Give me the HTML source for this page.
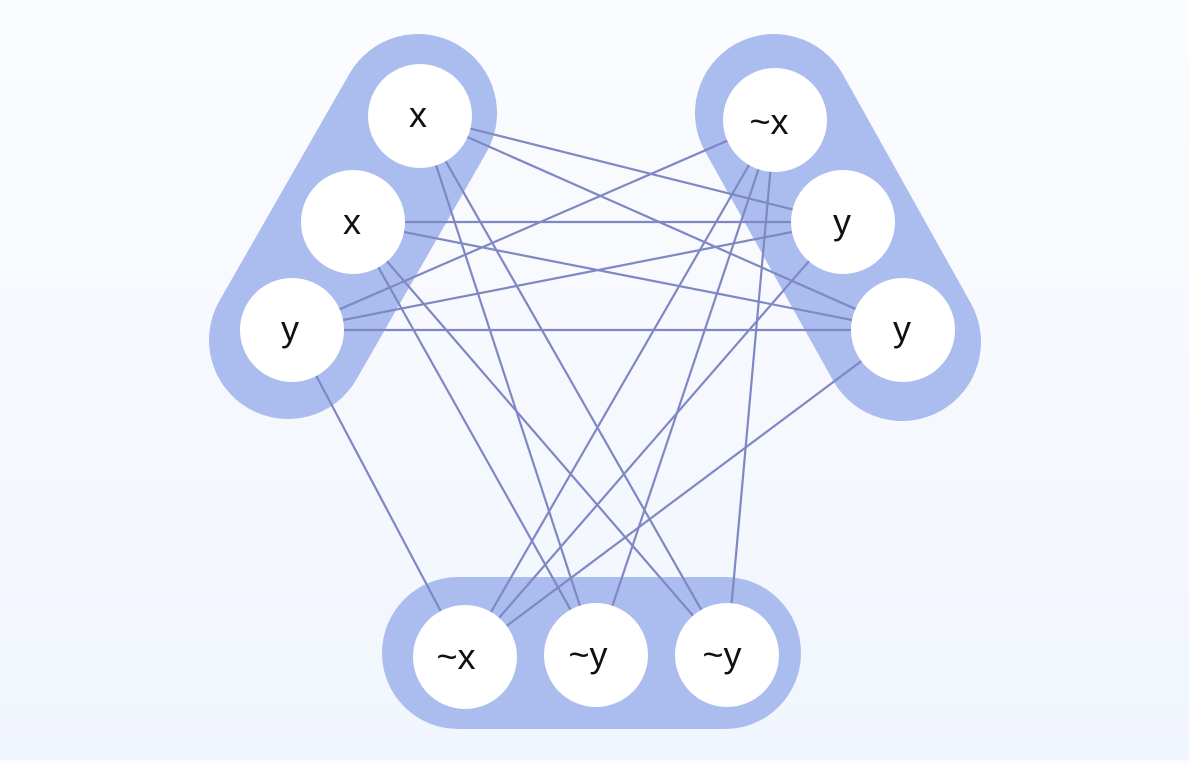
<!DOCTYPE html>
<html><head><meta charset="utf-8"><style>
html,body{margin:0;padding:0;}
body{width:1189px;height:760px;background:linear-gradient(#fbfcff,#f1f5fd);overflow:hidden;}
text{font-family:"Liberation Sans","DejaVu Sans",sans-serif;font-size:36px;fill:#111;}
</style></head><body>
<svg width="1189" height="760" xmlns="http://www.w3.org/2000/svg">
<g stroke="#abbdef" stroke-linecap="round">
<line x1="418" y1="113" x2="288" y2="340" stroke-width="158"/>
<line x1="774" y1="113" x2="902" y2="342" stroke-width="158"/>
<line x1="458" y1="653" x2="725" y2="653" stroke-width="152"/>
</g>
<g stroke="#7f87c4" stroke-width="2.2">
<line x1="420" y1="116" x2="843" y2="222"/>
<line x1="420" y1="116" x2="903" y2="330"/>
<line x1="420" y1="116" x2="596" y2="655"/>
<line x1="420" y1="116" x2="727" y2="655"/>
<line x1="353" y1="222" x2="843" y2="222"/>
<line x1="353" y1="222" x2="903" y2="330"/>
<line x1="353" y1="222" x2="596" y2="655"/>
<line x1="353" y1="222" x2="727" y2="655"/>
<line x1="292" y1="330" x2="775" y2="120"/>
<line x1="292" y1="330" x2="843" y2="222"/>
<line x1="292" y1="330" x2="903" y2="330"/>
<line x1="292" y1="330" x2="465" y2="657"/>
<line x1="775" y1="120" x2="465" y2="657"/>
<line x1="775" y1="120" x2="596" y2="655"/>
<line x1="775" y1="120" x2="727" y2="655"/>
<line x1="843" y1="222" x2="465" y2="657"/>
<line x1="903" y1="330" x2="465" y2="657"/>
</g>
<g fill="#fff">
<circle cx="420" cy="116" r="52"/><circle cx="353" cy="222" r="52"/><circle cx="292" cy="330" r="52"/>
<circle cx="775" cy="120" r="52"/><circle cx="843" cy="222" r="52"/><circle cx="903" cy="330" r="52"/>
<circle cx="465" cy="657" r="52"/><circle cx="596" cy="655" r="52"/><circle cx="727" cy="655" r="52"/>
</g>
<g text-anchor="middle">
<text x="418" y="127">x</text><text x="352" y="234">x</text><text x="290" y="341">y</text>
<text x="769" y="134">~x</text><text x="842" y="234">y</text><text x="902" y="341">y</text>
<text x="456" y="669">~x</text><text x="588" y="667">~y</text><text x="722" y="667">~y</text>
</g>
</svg>
</body></html>
